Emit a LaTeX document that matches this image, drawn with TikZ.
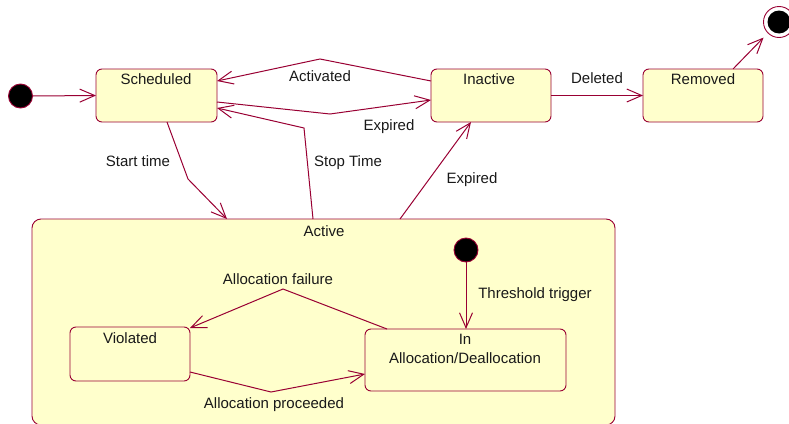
\documentclass[tikz,border=0pt]{standalone}
\usepackage{fontspec}
\setmainfont{Liberation Sans}
\usetikzlibrary{arrows.meta}
\definecolor{edgecol}{HTML}{990033}
\definecolor{boxfill}{HTML}{FFFFCC}
\tikzset{
  statebox/.style={draw=edgecol, fill=boxfill, line width=0.9pt, rounded corners=6pt,
    inner sep=0pt, outer sep=0pt},
  txt/.style={inner sep=0pt, font=\fontsize{15}{18}\selectfont, text=black!90},
  tr/.style={draw=edgecol, line width=1pt,
    -{Straight Barb[length=15pt,width=13pt,line width=1pt]}},
  dot/.style={circle, draw=edgecol, fill=black, line width=0.9pt, inner sep=0pt, minimum size=24pt}
}
\begin{document}
\begin{tikzpicture}[x=1pt, y=-1pt]
\useasboundingbox (0,0) rectangle (789,423);

% composite state
\node[statebox, rounded corners=9pt, minimum width=583pt, minimum height=206pt, anchor=north west]
  (act) at (32,219) {};
\node[txt] (actlbl) at (324,231) {Active};

% top-level states
\node[statebox, minimum width=121pt, minimum height=53pt, anchor=north west] (sch) at (96,69) {};
\node[txt] (schlbl) at (156,79) {Scheduled};
\node[statebox, minimum width=120pt, minimum height=53pt, anchor=north west] (ina) at (431,69) {};
\node[txt] (inalbl) at (489,79) {Inactive};
\node[statebox, minimum width=120pt, minimum height=53pt, anchor=north west] (rem) at (643,69) {};
\node[txt] (remlbl) at (703,79) {Removed};

% nested states
\node[statebox, minimum width=120pt, minimum height=54pt, anchor=north west] (vio) at (70,327) {};
\node[txt] (violbl) at (130,338) {Violated};
\node[statebox, minimum width=201pt, minimum height=62pt, anchor=north west] (alc) at (365,329) {};
\node[txt, align=center] (alclbl) at (465,349) {In\\[1pt]Allocation/Deallocation};

% pseudo states
\node[dot] (ini) at (20.5,96) {};
\node[dot] (ini2) at (466,250) {};
\node[circle, draw=edgecol, fill=white, line width=0.9pt, minimum size=31pt, inner sep=0pt] (fin) at (779,22) {};
\node[circle, fill=black, minimum size=23pt, inner sep=0pt] (finin) at (fin) {};

% transitions
\draw[tr] (ini.east) -- (sch.west);

\draw[tr] ([yshift=-12pt]ina.north west) -- (320,59) -- ([yshift=-12pt]sch.north east);
\node[txt] (lact) at (320,76) {Activated};

\draw[tr] ([yshift=-33pt]sch.north east) -- (330,114) -- ([yshift=-31pt]ina.north west);
\node[txt] (lexp1) at (389,127) {Expired};

\draw[tr] ([xshift=281pt]act.north west) -- (304,128) -- ([yshift=-39pt]sch.north east);
\node[txt] (lstop) at (348,163) {Stop Time};

\draw[tr] ([xshift=71pt]sch.south west) -- (188,179) -- ([xshift=195pt]act.north west);
\node[txt] (lstart) at (138,161) {Start time};

\draw[tr] ([xshift=368pt]act.north west) -- ([xshift=40pt]ina.south west);
\node[txt] (lexp2) at (472,180) {Expired};

\draw[tr] (ina.east) -- (rem.west);
\node[txt] (ldel) at (597,78) {Deleted};

\draw[tr, shorten >=6pt] ([xshift=90pt]rem.north west) -- (fin.south west);

\draw[tr] (ini2.south) -- (alc.north -| ini2);
\node[txt] (lthr) at (535,295) {Threshold trigger};

\draw[tr] ([xshift=22pt]alc.north west) -- (283,289) -- ([yshift=-1pt]vio.north east);
\node[txt] (lfail) at (278,279) {Allocation failure};

\draw[tr] ([yshift=-45pt]vio.north east) -- (271,392) -- ([yshift=-45pt]alc.north west);
\node[txt] (lproc) at (274,405) {Allocation proceeded};
\end{tikzpicture}
\end{document}
